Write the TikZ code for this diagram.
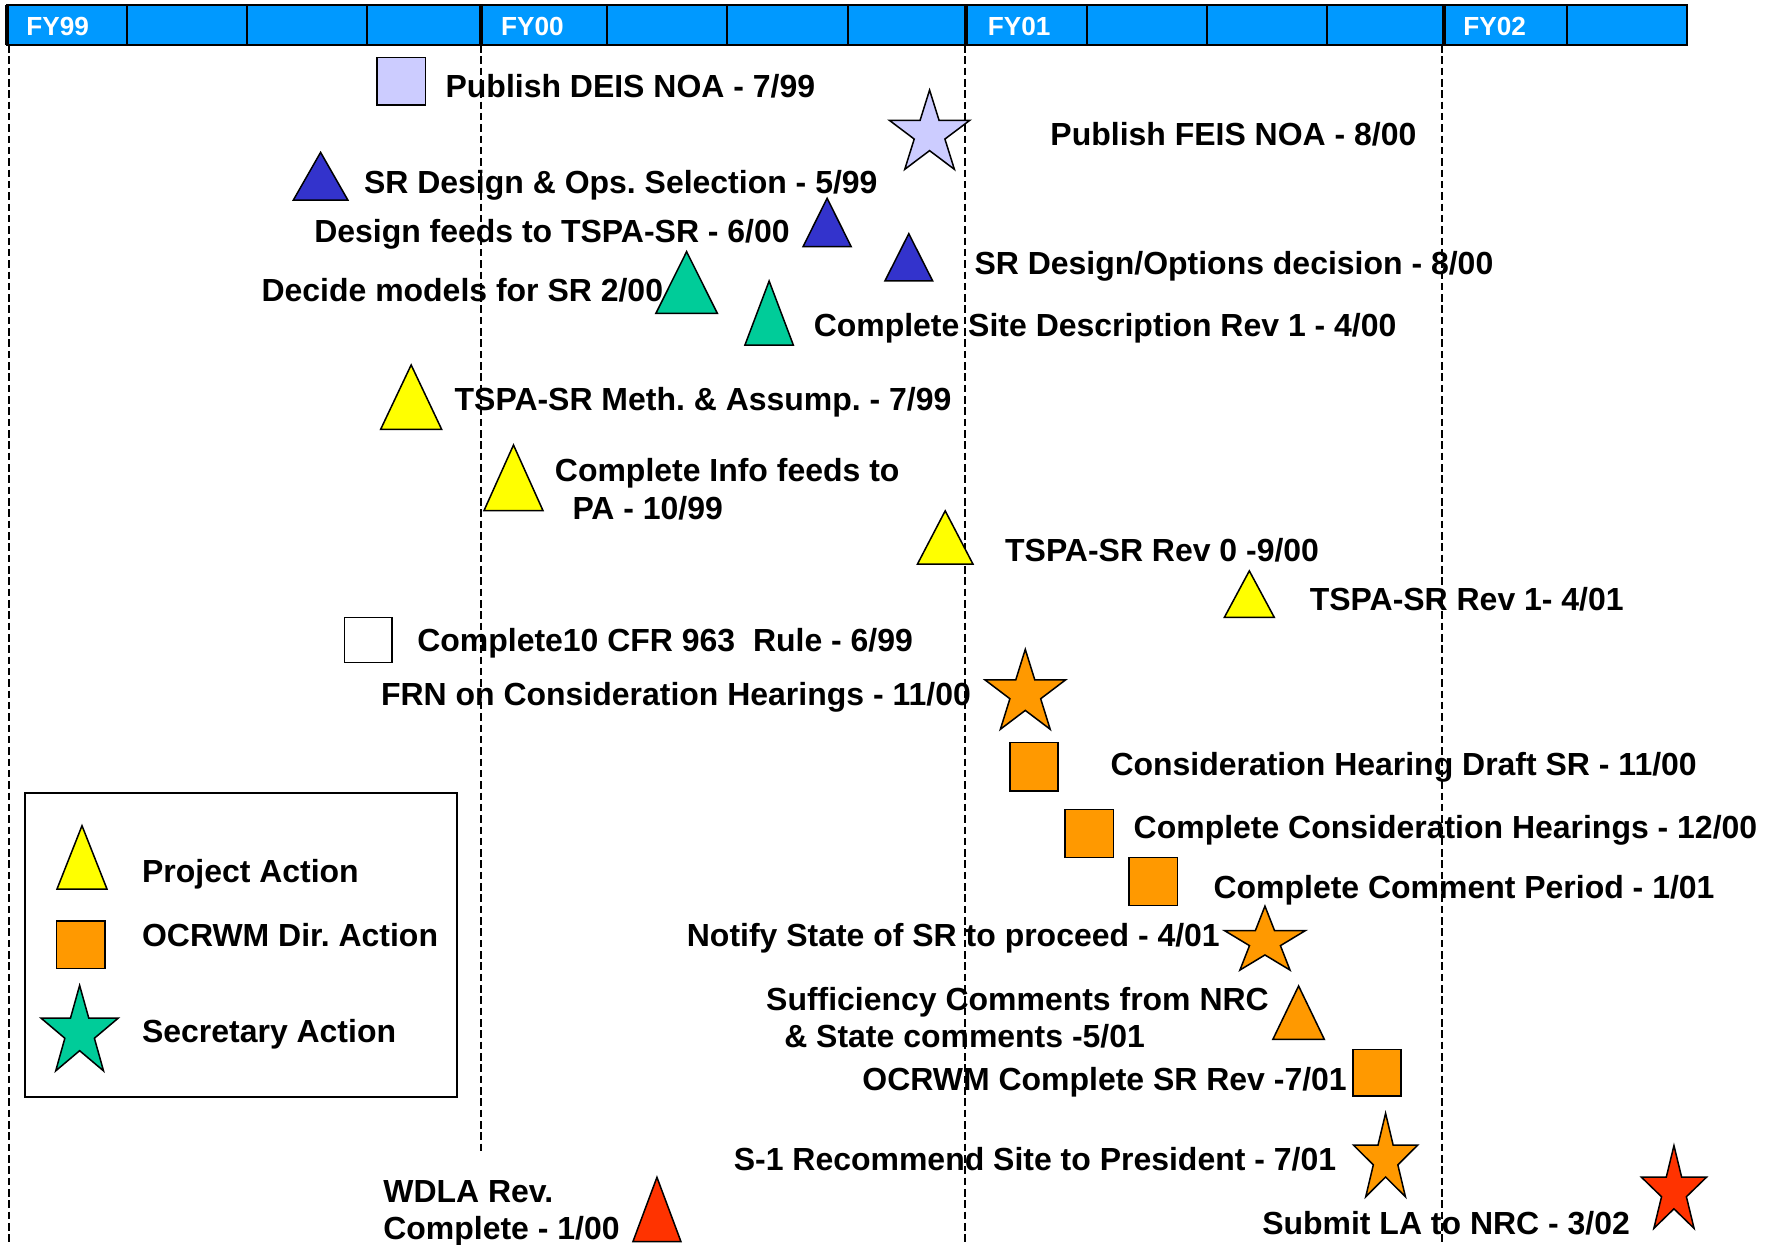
\documentclass[tikz,border=0pt]{standalone}
\usepackage{fontspec}
\setmainfont{Liberation Sans}
\frenchspacing
\definecolor{lav}{HTML}{CCCCFF}
\definecolor{dblue}{HTML}{3333CC}
\definecolor{teal1}{HTML}{00CC99}
\definecolor{yel}{HTML}{FFFF00}
\definecolor{org}{HTML}{FF9900}
\definecolor{red1}{HTML}{FF3300}
\definecolor{barblue}{HTML}{0099FF}
\newcommand\lblfont{\fontsize{12.7}{15}\selectfont\bfseries\frenchspacing}
\newcommand\fyfont{\fontsize{10.4}{12}\selectfont\bfseries}
\tikzset{
  shp/.style={draw=black, line width=0.6pt, line join=miter},
  lbl/.style={anchor=base west, inner sep=0pt, font=\lblfont},
  fy/.style={anchor=base west, inner sep=0pt, text=white, font=\fyfont},
  vline/.style={draw=black, line width=0.75pt, dash pattern=on 3pt off 1.5pt},
  thinsep/.style={draw=black, line width=0.5pt},
  thicksep/.style={draw=black, line width=1.4pt},
}
% triangle: fill, x left, x right, y apex, y base
\newcommand{\tri}[5]{\draw[shp, fill=#1] (#2,#5) -- ({(#2+#3)/2},#4) -- (#3,#5) -- cycle;}
% square: fill, x1, y1, x2, y2
\newcommand{\sq}[5]{\draw[shp, fill=#1] (#2,#3) rectangle (#4,#5);}
% star: fill, cx, cy, rx, ry
\newcommand{\fivestar}[5]{\draw[shp, fill=#1] ({#2},{#3-#5})
  \foreach \k in {1,...,9}{ -- ({#2+ifthenelse(isodd(\k),0.382,1)*#4*cos(90+36*\k)},{#3-ifthenelse(isodd(\k),0.382,1)*#5*sin(90+36*\k)}) } -- cycle;}
\begin{document}
\begin{tikzpicture}[x=0.45pt, y=-0.45pt]
\useasboundingbox (0,0) rectangle (1568,1099);

% ---- timeline bar ----
\fill[barblue] (6,4.4) rectangle (1489.3,39.7);
\foreach \x in {112.1,218.1,324,535.9,641.8,748.6,959.6,1065.6,1171.5,1383.4}
  \draw[thinsep] (\x,4.4) -- (\x,39.7);
\draw[draw=black, line width=0.8pt] (6,4.4) rectangle (1489.3,39.7);
\foreach \x in {6.2,424.6,852.8,1274.8}
  \draw[thicksep] (\x,4.4) -- (\x,39.7);
\node[fy] (fy99) at (22.8,30.9) {FY99};
\node[fy] (fy00) at (442,30.9) {FY00};
\node[fy] (fy01) at (871.7,30.9) {FY01};
\node[fy] (fy02) at (1291.5,30.9) {FY02};

% ---- dashed year lines ----
\draw[vline] (7.6,39.7) -- (7.6,1099);
\draw[vline] (424.6,39.7) -- (424.6,1018);
\draw[vline] (852.3,39.7) -- (852.3,1099);
\draw[vline] (1272.8,39.7) -- (1272.8,1099);

% ---- shapes ----
\sq{lav}{332.7}{50.6}{375.7}{92.7}
\fivestar{lav}{820.7}{118.2}{37.3}{38.7}
\tri{dblue}{259}{307.1}{134.5}{176.6}
\tri{dblue}{709}{751.5}{175}{217.8}
\tri{dblue}{781.3}{823.4}{206.3}{248}
\tri{teal1}{579.1}{633.3}{222.2}{276.6}
\tri{teal1}{657.7}{700.4}{248.1}{304.6}
\tri{yel}{336.1}{389.9}{322.2}{379}
\tri{yel}{427.3}{479.4}{392.9}{450.8}
\tri{yel}{810}{859}{451}{498}
\tri{yel}{1081}{1125}{504}{545}
\sq{white}{304}{545}{346}{585}
\fivestar{org}{905.2}{612.3}{37.4}{39}
\sq{org}{891.7}{655.7}{934.3}{698.3}
\sq{org}{940.2}{714.5}{983.2}{757.2}
\sq{org}{996.7}{756.9}{1039.7}{799.6}
\fivestar{org}{1116.8}{831.2}{37.6}{31.2}
\tri{org}{1123.8}{1169.2}{870.5}{917.6}
\sq{org}{1194.7}{926.4}{1237}{967.6}
\fivestar{org}{1223.3}{1023.6}{29.8}{40.7}
\tri{red1}{558.8}{601.2}{1039.4}{1096.2}
\fivestar{red1}{1477.9}{1051.8}{30.2}{40.4}

% ---- labels ----
\node[lbl] (t1) at (393,86) {Publish DEIS NOA - 7/99};
\node[lbl] (t2) at (927,128.5) {Publish FEIS NOA - 8/00};
\node[lbl] (t3) at (321,170.5) {SR Design \& Ops. Selection - 5/99};
\node[lbl] (t4) at (277,214.5) {Design feeds to TSPA-SR - 6/00};
\node[lbl] (t5) at (860,242) {SR Design/Options decision - 8/00};
\node[lbl] (t6) at (230.5,266.5) {Decide models for SR 2/00};
\node[lbl] (t7) at (718,297.5) {Complete Site Description Rev 1 - 4/00};
\node[lbl] (t8) at (401,362) {TSPA-SR Meth. \& Assump. - 7/99};
\node[lbl] (t9a) at (489.5,425) {Complete Info feeds to};
\node[lbl] (t9b) at (505,458.5) {PA - 10/99};
\node[lbl] (t10) at (887,496) {TSPA-SR Rev 0 -9/00};
\node[lbl] (t11) at (1156,539) {TSPA-SR Rev 1- 4/01};
\node[lbl] (t12) at (368,575) {Complete10 CFR 963\ \ Rule - 6/99};
\node[lbl] (t13) at (336,623) {FRN on Consideration Hearings - 11/00};
\node[lbl] (t14) at (980,684.5) {Consideration Hearing Draft SR - 11/00};
\node[lbl] (t15) at (1000.5,740.5) {Complete Consideration Hearings - 12/00};
\node[lbl] (t16) at (1071,793.5) {Complete Comment Period - 1/01};
\node[lbl] (t17) at (606,836) {Notify State of SR to proceed - 4/01};
\node[lbl] (t18a) at (676,892) {Sufficiency Comments from NRC};
\node[lbl] (t18b) at (692,925) {\& State comments -5/01};
\node[lbl] (t19) at (761,962.5) {OCRWM Complete SR Rev -7/01};
\node[lbl] (t20) at (647.5,1033.5) {S-1 Recommend Site to President - 7/01};
\node[lbl] (t21a) at (338,1062) {WDLA Rev.};
\node[lbl] (t21b) at (338,1094.5) {Complete - 1/00};
\node[lbl] (t22) at (1114,1090) {Submit LA to NRC - 3/02};

% ---- legend ----
\draw[draw=black, line width=0.6pt, fill=white] (22.1,700) rectangle (403.5,968.5);
\tri{yel}{50.3}{94.5}{729}{785}
\sq{org}{50}{813}{92.7}{855}
\fivestar{teal1}{70.3}{911.7}{35.9}{41.7}
\node[lbl] (lg1) at (125,779.5) {Project Action};
\node[lbl] (lg2) at (125,836) {OCRWM Dir. Action};
\node[lbl] (lg3) at (125,920) {Secretary Action};
\end{tikzpicture}
\end{document}
